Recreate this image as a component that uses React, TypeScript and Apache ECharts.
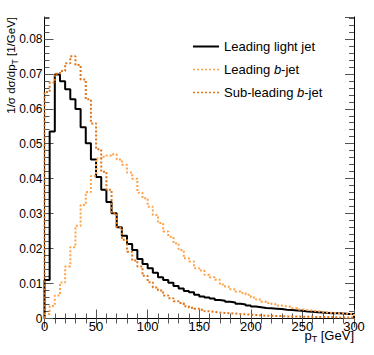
import React, { useEffect, useRef } from "react";
import * as echarts from "echarts";

// 5 GeV bins from 0 to 300 GeV
const BIN_WIDTH = 5;
const seriesNames = ["Leading light jet", "Leading b-jet", "Sub-leading b-jet"];

const leadingLightJet = [
  0.0110, 0.0535, 0.0698, 0.0679, 0.0656, 0.0627, 0.0599, 0.0547, 0.0501, 0.0455,
  0.0405, 0.0368, 0.0333, 0.0301, 0.0261, 0.0237, 0.0213, 0.0196, 0.0170, 0.0156,
  0.0144, 0.0131, 0.0118, 0.0110, 0.0102, 0.0093, 0.0086, 0.0079, 0.0075, 0.0068,
  0.0063, 0.0060, 0.0057, 0.0053, 0.0051, 0.0048, 0.0046, 0.0042, 0.0040, 0.0037,
  0.0034, 0.0032, 0.0030, 0.0029, 0.0028, 0.0027, 0.0025, 0.0024, 0.0023, 0.0022,
  0.0020, 0.0019, 0.0018, 0.0017, 0.0016, 0.0015, 0.0015, 0.0014, 0.0013, 0.0013,
];

const leadingBJet = [
  0.0013, 0.0036, 0.0066, 0.0103, 0.0149, 0.0204, 0.0265, 0.0325, 0.0362, 0.0408,
  0.0458, 0.0463, 0.0466, 0.0470, 0.0455, 0.0440, 0.0418, 0.0400, 0.0360, 0.0344,
  0.0320, 0.0296, 0.0273, 0.0249, 0.0234, 0.0215, 0.0196, 0.0172, 0.0163, 0.0144,
  0.0137, 0.0125, 0.0118, 0.0111, 0.0097, 0.0091, 0.0084, 0.0077, 0.0073, 0.0068,
  0.0060, 0.0054, 0.0048, 0.0044, 0.0041, 0.0037, 0.0035, 0.0033, 0.0029, 0.0026,
  0.0024, 0.0023, 0.0021, 0.0019, 0.0017, 0.0016, 0.0015, 0.0015, 0.0014, 0.0013,
];

const subLeadingBJet = [
  0.0648, 0.0675, 0.0700, 0.0708, 0.0730, 0.0750, 0.0725, 0.0684, 0.0627, 0.0558,
  0.0484, 0.0420, 0.0368, 0.0301, 0.0261, 0.0225, 0.0191, 0.0166, 0.0149, 0.0122,
  0.0104, 0.0089, 0.0080, 0.0066, 0.0058, 0.0049, 0.0044, 0.0035, 0.0031, 0.0028,
  0.0025, 0.0021, 0.0019, 0.0017, 0.0016, 0.0015, 0.0014, 0.0013, 0.0012, 0.0011,
  0.0010, 0.0009, 0.0008, 0.0008, 0.0007, 0.0007, 0.0006, 0.0006, 0.0006, 0.0005,
  0.0005, 0.0005, 0.0004, 0.0004, 0.0004, 0.0004, 0.0003, 0.0003, 0.0003, 0.0003,
];

const xTickValues = [0, 50, 100, 150, 200, 250, 300];
const yTickLabels = ["0", "0.01", "0.02", "0.03", "0.04", "0.05", "0.06", "0.07", "0.08"];

const X_MAX = 300;
const Y_MAX = 0.08625;
const FONT = "'Liberation Sans', Arial, Helvetica, sans-serif";
const LIGHT_ORANGE = "#ffa24a";
const DARK_ORANGE = "#e0741a";

function histPoints(vals: number[]): number[][] {
  const pts: number[][] = [[0, 0]];
  vals.forEach((v, i) => pts.push([i * BIN_WIDTH, v]));
  pts.push([vals.length * BIN_WIDTH, vals[vals.length - 1]]);
  pts.push([vals.length * BIN_WIDTH, 0]);
  return pts;
}

export default function App() {
  const ref = useRef<HTMLDivElement>(null);
  useEffect(() => {
    if (!ref.current) return;
    const chart = echarts.init(ref.current, null, { renderer: "svg" });
    const axisLine = { show: true, lineStyle: { color: "#000", width: 1 } };
    const tickStyle = { color: "#555", width: 1 };
    const xBase = {
      type: "value" as const,
      min: 0,
      max: X_MAX,
      interval: 50,
      splitLine: { show: false },
      axisLine,
      axisTick: { show: true, inside: true, length: 9, lineStyle: tickStyle },
      minorTick: { show: true, splitNumber: 5, length: 5, lineStyle: tickStyle },
    };
    const yBase = {
      type: "value" as const,
      min: 0,
      max: Y_MAX,
      splitLine: { show: false },
      axisLabel: { show: false },
    };
    const legendLine = [
      { color: "#000", width: 2, type: "solid" },
      { color: LIGHT_ORANGE, width: 1.5, type: [2, 2] },
      { color: DARK_ORANGE, width: 1.5, type: [2, 2] },
    ];
    const option = {
      animation: false,
      backgroundColor: "#fff",
      grid: { left: 44.5, right: 20, top: 17, bottom: 36.5, containLabel: false },
      legend: {
        orient: "vertical",
        left: 192,
        top: 40,
        padding: 0,
        itemWidth: 26,
        itemHeight: 14,
        itemGap: 10,
        selectedMode: false,
        data: seriesNames.map((n, i) => ({
          name: n,
          lineStyle: legendLine[i],
          itemStyle: { opacity: 0 },
        })),
        formatter: (name: string) => name.replace(/ b-jet/, " {i|b}-jet"),
        textStyle: {
          fontFamily: FONT,
          fontSize: 13,
          color: "#000",
          rich: { i: { fontFamily: FONT, fontSize: 13, fontStyle: "italic", color: "#000" } },
        },
      },
      xAxis: [
        {
          ...xBase,
          position: "bottom",
          axisLabel: {
            show: true,
            margin: 4.2,
            fontFamily: FONT,
            fontSize: 13,
            lineHeight: 7,
            color: "#000",
            formatter: (v: number) => (xTickValues.includes(v) ? String(v) : ""),
          },
        },
        { ...xBase, position: "top", axisLabel: { show: false } },
      ],
      yAxis: [
        {
          ...yBase,
          position: "left",
          interval: 0.01,
          axisLine,
          axisTick: { show: true, inside: true, length: 9, lineStyle: tickStyle },
          axisLabel: {
            show: true,
            margin: 2,
            fontFamily: FONT,
            fontSize: 12,
            lineHeight: 7,
            color: "#000",
            showMaxLabel: false,
            formatter: (v: number) => {
              const idx = Math.round(v / 0.01);
              return Math.abs(v - idx * 0.01) < 1e-9 && yTickLabels[idx] !== undefined ? yTickLabels[idx] : "";
            },
          },
        },
        {
          ...yBase,
          position: "left",
          interval: 0.002,
          axisLine: { show: false },
          axisTick: { show: true, inside: true, length: 5, lineStyle: tickStyle },
        },
        {
          ...yBase,
          position: "right",
          interval: 0.01,
          axisLine,
          axisTick: { show: true, inside: true, length: 9, lineStyle: tickStyle },
        },
        {
          ...yBase,
          position: "right",
          interval: 0.002,
          axisLine: { show: false },
          axisTick: { show: true, inside: true, length: 5, lineStyle: tickStyle },
        },
      ],
      series: [
        {
          name: seriesNames[0],
          type: "line",
          step: "end",
          showSymbol: false,
          symbol: "none",
          data: histPoints(leadingLightJet),
          lineStyle: { color: "#000", width: 2 },
          itemStyle: { color: "#000" },
          z: 3,
        },
        {
          name: seriesNames[1],
          type: "line",
          step: "end",
          showSymbol: false,
          symbol: "none",
          data: histPoints(leadingBJet),
          lineStyle: { color: LIGHT_ORANGE, width: 2, type: [2, 2] },
          itemStyle: { color: LIGHT_ORANGE },
          z: 4,
        },
        {
          name: seriesNames[2],
          type: "line",
          step: "end",
          showSymbol: false,
          symbol: "none",
          data: histPoints(subLeadingBJet),
          lineStyle: { color: DARK_ORANGE, width: 2, type: [2, 2] },
          itemStyle: { color: DARK_ORANGE },
          z: 5,
        },
      ],
      graphic: [
        {
          type: "text",
          x: 16,
          y: 17,
          rotation: Math.PI / 2,
          style: {
            text: "{m|1/σ dσ/dp}{s|T}{m| [1/GeV]}",
            align: "right",
            verticalAlign: "bottom",
            fill: "#000",
            rich: {
              m: { fontFamily: FONT, fontSize: 11.5, lineHeight: 10, fill: "#000" },
              s: { fontFamily: FONT, fontSize: 8.5, height: 2, lineHeight: 2, verticalAlign: "bottom", fill: "#000" },
            },
          },
        },
        {
          type: "text",
          x: 354,
          y: 340,
          style: {
            text: "{m|p}{s|T}{m| [GeV]}",
            align: "right",
            verticalAlign: "bottom",
            fill: "#000",
            rich: {
              m: { fontFamily: FONT, fontSize: 13, lineHeight: 10, fill: "#000" },
              s: { fontFamily: FONT, fontSize: 9, height: 2, lineHeight: 2, verticalAlign: "bottom", fill: "#000" },
            },
          },
        },
      ],
    };
    chart.setOption(option as any);
    return () => chart.dispose();
  }, []);
  return (
    <div
      ref={ref}
      style={{ position: "absolute", left: 0, top: 0, width: 374, height: 355 }}
    />
  );
}
